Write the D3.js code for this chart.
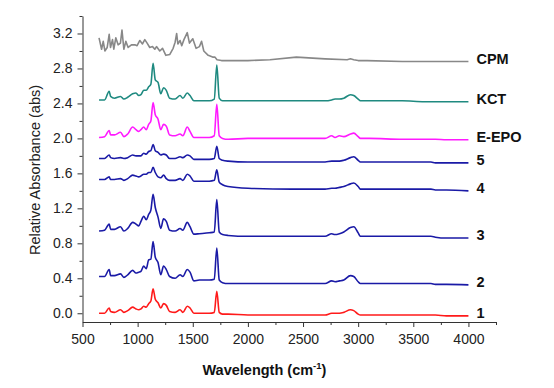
<!DOCTYPE html>
<html>
<head>
<meta charset="utf-8">
<script src="https://cdn.jsdelivr.net/npm/d3@7"></script>
<style>
  body { margin: 0; background: #fff; }
  svg { font-family: Arial, "Liberation Sans", sans-serif; }
</style>
</head>
<body>
<svg id="chart"></svg>
<script>
// wavenumbers shared by the six similar spectra (cm-1)
const wn = [650, 700, 742, 755, 790, 845, 875, 910, 955, 985,
            1010, 1030, 1055, 1078, 1100, 1120, 1140, 1160, 1185, 1210,
            1235, 1260, 1290, 1340, 1385, 1410, 1450, 1475, 1510, 1560,
            1650, 1695, 1718, 1740, 1770, 1820, 2000, 2400, 2700, 2760,
            2790, 2830, 2870, 2930, 2960, 3000, 3020, 3100, 3400, 3600,
            3660, 3700, 3800, 4000];

const kct = [2.44, 2.44, 2.54, 2.48, 2.46, 2.48, 2.45, 2.47, 2.51, 2.52,
             2.49, 2.50, 2.55, 2.55, 2.59, 2.62, 2.86, 2.67, 2.64, 2.51,
             2.58, 2.55, 2.46, 2.45, 2.49, 2.46, 2.52, 2.49, 2.43, 2.43,
             2.43, 2.45, 2.84, 2.46, 2.43, 2.43, 2.43, 2.43, 2.43, 2.44,
             2.45, 2.45, 2.46, 2.50, 2.49, 2.45, 2.43, 2.43, 2.43, 2.42,
             2.42, 2.42, 2.42, 2.42];

const eepo = [2.01, 2.02, 2.09, 2.04, 2.04, 2.07, 2.02, 2.05, 2.13, 2.10,
              2.08, 2.10, 2.13, 2.10, 2.16, 2.20, 2.41, 2.27, 2.22, 2.10,
              2.16, 2.14, 2.04, 2.03, 2.05, 2.03, 2.13, 2.08, 2.01, 2.01,
              2.01, 2.03, 2.39, 2.03, 2.00, 1.99, 2.00, 2.00, 2.00, 2.03,
              2.01, 2.03, 2.02, 2.05, 2.06, 2.02, 2.00, 2.00, 1.99, 1.99,
              1.99, 1.99, 1.985, 1.985];

const s5 = [1.77, 1.77, 1.81, 1.78, 1.77, 1.78, 1.77, 1.78, 1.81, 1.80,
            1.80, 1.80, 1.83, 1.82, 1.85, 1.86, 1.93, 1.86, 1.84, 1.81,
            1.82, 1.81, 1.77, 1.77, 1.79, 1.78, 1.81, 1.80, 1.76, 1.76,
            1.76, 1.77, 1.91, 1.77, 1.75, 1.74, 1.73, 1.73, 1.73, 1.74,
            1.74, 1.74, 1.75, 1.78, 1.79, 1.75, 1.73, 1.73, 1.73, 1.73,
            1.73, 1.72, 1.72, 1.72];

const s4 = [1.53, 1.53, 1.56, 1.53, 1.53, 1.54, 1.52, 1.54, 1.58, 1.57,
            1.56, 1.57, 1.59, 1.59, 1.61, 1.61, 1.67, 1.61, 1.56, 1.55,
            1.58, 1.54, 1.52, 1.52, 1.54, 1.52, 1.59, 1.57, 1.51, 1.51,
            1.51, 1.52, 1.64, 1.50, 1.47, 1.45, 1.43, 1.42, 1.42, 1.43,
            1.43, 1.44, 1.45, 1.48, 1.49, 1.45, 1.42, 1.42, 1.42, 1.42,
            1.42, 1.41, 1.41, 1.40];

const s3 = [0.94, 0.95, 1.02, 0.96, 0.96, 0.99, 0.94, 0.97, 1.04, 1.02,
            1.00, 1.05, 1.11, 1.07, 1.13, 1.18, 1.36, 1.21, 1.10, 0.97,
            1.08, 1.05, 0.95, 0.94, 0.97, 0.95, 1.04, 0.99, 0.905, 0.91,
            0.92, 0.93, 1.30, 0.93, 0.90, 0.89, 0.88, 0.88, 0.88, 0.91,
            0.90, 0.91, 0.93, 0.98, 0.99, 0.92, 0.88, 0.88, 0.88, 0.88,
            0.88, 0.87, 0.86, 0.86];

const s2 = [0.42, 0.42, 0.50, 0.43, 0.43, 0.45, 0.41, 0.44, 0.49, 0.46,
            0.47, 0.48, 0.54, 0.51, 0.61, 0.62, 0.82, 0.64, 0.58, 0.44,
            0.54, 0.50, 0.42, 0.40, 0.44, 0.42, 0.50, 0.47, 0.37, 0.38,
            0.38, 0.39, 0.745, 0.38, 0.35, 0.34, 0.34, 0.34, 0.34, 0.37,
            0.36, 0.37, 0.38, 0.43, 0.42, 0.36, 0.34, 0.34, 0.34, 0.34,
            0.34, 0.33, 0.33, 0.325];

const s1 = [0.00, 0.00, 0.06, 0.02, 0.01, 0.04, 0.01, 0.03, 0.07, 0.05,
            0.04, 0.05, 0.08, 0.07, 0.11, 0.14, 0.28, 0.16, 0.12, 0.06,
            0.11, 0.09, 0.02, 0.01, 0.04, 0.01, 0.08, 0.06, 0.00, 0.00,
            0.00, 0.01, 0.25, 0.01, -0.01, -0.01, -0.02, -0.02, -0.02, 0.00,
            0.00, 0.00, 0.01, 0.04, 0.03, -0.01, -0.02, -0.02, -0.02, -0.02,
            -0.02, -0.02, -0.03, -0.03];

// CPM is noisier, read on its own grid
const cpmWn = [650, 673, 688, 703, 724, 742, 754, 772, 784, 802,
               823, 844, 858, 875, 893, 914, 944, 975, 995, 1020,
               1044, 1065, 1086, 1110, 1135, 1156, 1171, 1201, 1226, 1256,
               1292, 1322, 1340, 1354, 1365, 1385, 1400, 1420, 1450, 1470,
               1500, 1530, 1560, 1580, 1600, 1640, 1680, 1700, 1720, 1760,
               2000, 2200, 2440, 2700, 2900, 2930, 2960, 3000, 3080, 3400,
               4000];
const cpm = [3.15, 3.02, 3.11, 3.00, 3.04, 3.19, 3.04, 3.13, 3.02, 3.15,
             3.07, 3.09, 3.24, 3.02, 3.11, 3.04, 3.07, 3.07, 3.06, 3.12,
             3.08, 3.13, 3.09, 3.04, 3.05, 3.02, 3.05, 3.00, 3.03, 2.95,
             2.96, 3.03, 3.10, 3.20, 3.08, 3.12, 3.06, 3.13, 3.21, 3.09,
             3.14, 3.03, 3.05, 3.11, 3.00, 2.95, 2.93, 2.93, 2.90, 2.89,
             2.89, 2.90, 2.93, 2.91, 2.90, 2.91, 2.90, 2.89, 2.89, 2.88,
             2.88];

const xTicks = [500, 1000, 1500, 2000, 2500, 3000, 3500, 4000];
const yTicks = [0.0, 0.4, 0.8, 1.2, 1.6, 2.0, 2.4, 2.8, 3.2];

const series = [
    { name: "CPM", x: cpmWn, y: cpm, color: "#888888", curve: d3.curveLinear },
    { name: "KCT", x: wn, y: kct, color: "#1f8a80", curve: d3.curveMonotoneX },
    { name: "E-EPO", x: wn, y: eepo, color: "#ff1aff", curve: d3.curveMonotoneX },
    { name: "5", x: wn, y: s5, color: "#1a1aa6", curve: d3.curveMonotoneX },
    { name: "4", x: wn, y: s4, color: "#1a1aa6", curve: d3.curveMonotoneX },
    { name: "3", x: wn, y: s3, color: "#1a1aa6", curve: d3.curveMonotoneX },
    { name: "2", x: wn, y: s2, color: "#1a1aa6", curve: d3.curveMonotoneX },
    { name: "1", x: wn, y: s1, color: "#ff1a1a", curve: d3.curveMonotoneX }
];

const W = 554, H = 388;
const margin = { top: 16, right: 58, bottom: 66, left: 82.5 };
const width = W - margin.left - margin.right;
const height = H - margin.top - margin.bottom;

const svg = d3.select("#chart")
    .attr("width", W)
    .attr("height", H)
    .append("g")
    .attr("transform", "translate(" + margin.left + "," + margin.top + ")");

const xScale = d3.scaleLinear([500, 4250], [0, width]);
const yScale = d3.scaleLinear([-0.1, 3.4], [height, 0]);

// minor ticks first, then major axes on top
svg.append("g")
    .attr("transform", `translate(0,${height})`)
    .call(d3.axisBottom(xScale).tickValues(d3.range(750, 4251, 500)).tickSize(3).tickFormat(""))
    .call(g => g.select(".domain").remove());
svg.append("g")
    .call(d3.axisLeft(yScale).tickValues(d3.range(-0.0, 3.5, 0.2).filter((d, i) => i % 2 == 1)).tickSize(3).tickFormat(""))
    .call(g => g.select(".domain").remove());

const xAxis = svg.append("g")
    .attr("transform", `translate(0,${height})`)
    .call(d3.axisBottom(xScale).tickValues(xTicks).tickSize(5).tickPadding(7).tickSizeOuter(0)
        .tickFormat(d3.format("d")));
const yAxis = svg.append("g")
    .call(d3.axisLeft(yScale).tickValues(yTicks).tickSize(5).tickPadding(5).tickSizeOuter(0)
        .tickFormat(d3.format(".1f")));

[xAxis, yAxis].forEach(g => {
    g.selectAll("text").attr("font-size", 14).attr("fill", "#222").attr("font-family", "Arial, 'Liberation Sans', sans-serif");
    g.select(".domain").attr("stroke", "#333");
});
svg.selectAll(".tick line").attr("stroke", "#333");

// Axes labels
svg.append("text")
    .attr("text-anchor", "middle")
    .attr("x", xScale(2150))
    .attr("y", height + 53)
    .attr("font-size", 14.5)
    .attr("font-weight", "bold")
    .attr("fill", "#111")
    .html('Wavelength (cm<tspan dy="-6" font-size="9.5">-1</tspan><tspan dy="6">)</tspan>');

svg.append("text")
    .attr("text-anchor", "middle")
    .attr("transform", "rotate(-90)")
    .attr("x", -(170 - margin.top))
    .attr("y", -margin.left + 40)
    .attr("font-size", 14.5)
    .attr("fill", "#222")
    .text("Relative Absorbance (abs)");

const line = d3.line()
    .x(d => xScale(d[0]))
    .y(d => yScale(d[1]));

series.forEach(s => {
    const pts = s.x.map((w, i) => [w, s.y[i]]);
    svg.append("path")
        .datum(pts)
        .attr("fill", "none")
        .attr("stroke", s.color)
        .attr("stroke-width", 1.6)
        .attr("stroke-linejoin", "round")
        .attr("d", line.curve(s.curve));

    svg.append("text")
        .attr("x", xScale(4000) + 8)
        .attr("y", yScale(s.y[s.y.length - 1]) - 3)
        .attr("dy", "0.35em")
        .attr("font-size", 14.5)
        .attr("font-weight", "bold")
        .attr("fill", "#111")
        .text(s.name);
});
</script>
</body>
</html>
